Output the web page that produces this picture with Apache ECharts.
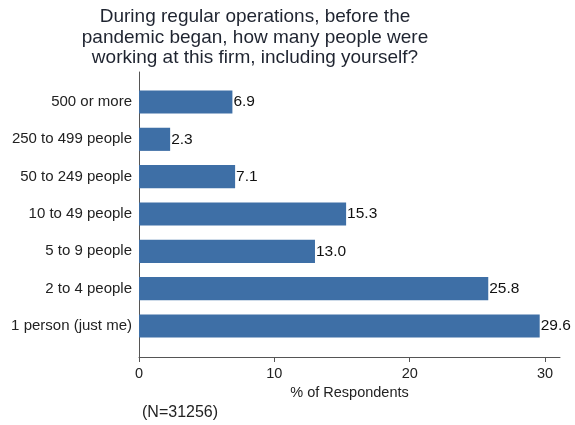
<!DOCTYPE html>
<html><head><meta charset="utf-8">
<script src="https://cdn.jsdelivr.net/npm/echarts@6/dist/echarts.min.js"></script>
<style>html,body{margin:0;padding:0;background:#fff}#c{width:575px;height:425px}</style>
</head><body><div id="c"></div>
<script>
const categories = ["1 person (just me)", "2 to 4 people", "5 to 9 people", "10 to 49 people", "50 to 249 people", "250 to 499 people", "500 or more"];
const values = [29.6, 25.8, 13.0, 15.3, 7.1, 2.3, 6.9];
const xTicks = [0, 10, 20, 30];
const titleText = "During regular operations, before the\npandemic began, how many people were\nworking at this firm, including yourself?";
const xTitle = "% of Respondents";
const note = "(N=31256)";

const font = "Liberation Sans, Arial, sans-serif";
const xMax = 31.1;
const chart = echarts.init(document.getElementById('c'), null, {renderer: 'canvas'});
chart.setOption({
  backgroundColor: '#fff',
  animation: false,
  title: [
    {text: titleText, left: 255, top: 7, textAlign: 'center', padding: 0,
     textStyle: {fontFamily: font, fontSize: 19, fontWeight: 'normal', color: '#1f2430', lineHeight: 20.3}},
    {text: note, left: 142, top: 405, padding: 0,
     textStyle: {fontFamily: font, fontSize: 16, fontWeight: 'normal', color: '#222'}}
  ],
  grid: [
    {left: 139, right: 15, top: 83.3, height: 261.4, containLabel: false},
    {left: 139, right: 15, top: 72, bottom: 68, containLabel: false}
  ],
  xAxis: [
    {gridIndex: 0, type: 'value', min: 0, max: xMax, show: false},
    {gridIndex: 1, type: 'value', min: 0, max: xMax,
     name: xTitle, nameLocation: 'middle', nameGap: 26,
     nameTextStyle: {fontFamily: font, fontSize: 14.5, color: '#222'},
     axisLine: {show: true, lineStyle: {color: '#555', width: 1}},
     axisTick: {show: true, length: 5, customValues: xTicks, lineStyle: {color: '#555'}},
     axisLabel: {customValues: xTicks, fontFamily: font, fontSize: 14.5, color: '#222', margin: 9},
     splitLine: {show: false}}
  ],
  yAxis: [
    {gridIndex: 0, type: 'category', data: categories,
     axisLine: {show: false}, axisTick: {show: false},
     axisLabel: {fontFamily: font, fontSize: 15, color: '#222', margin: 7}},
    {gridIndex: 1, type: 'value', min: 0, max: 1,
     axisLine: {show: true, lineStyle: {color: '#555', width: 1}},
     axisTick: {show: false}, axisLabel: {show: false}, splitLine: {show: false}}
  ],
  series: [{
    type: 'bar', xAxisIndex: 0, yAxisIndex: 0, data: values,
    barCategoryGap: '38%',
    itemStyle: {color: '#3e6fa6'},
    label: {show: true, position: 'right', distance: 1,
      formatter: p => p.value.toFixed(1),
      fontFamily: font, fontSize: 15.5, color: '#111'}
  }]
});
</script></body></html>
